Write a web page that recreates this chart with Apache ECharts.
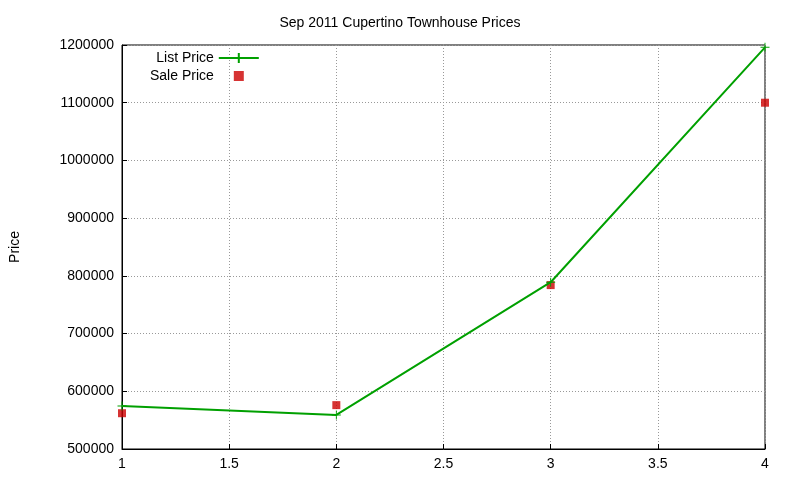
<!DOCTYPE html>
<html><head><meta charset="utf-8">
<script src="https://cdn.jsdelivr.net/npm/echarts@6/dist/echarts.min.js"></script>
<style>html,body{margin:0;padding:0;background:#fff}#c{width:800px;height:480px}</style>
</head><body><div id="c"></div>
<script>
const xs = [1, 2, 3, 4];
const listPrice = [574500, 559000, 789000, 1196000];
const salePrice = [562000, 576000, 784000, 1100000];
const title = 'Sep 2011 Cupertino Townhouse Prices';
const font = 'Liberation Sans';
const chart = echarts.init(document.getElementById('c'));
const ax = {
  axisLine:{show:true,onZero:false,lineStyle:{color:'#000'}},
  axisTick:{show:true,inside:true,lineStyle:{color:'#000'}},
  axisLabel:{color:'#000',fontSize:14,fontFamily:font},
  splitLine:{show:true,lineStyle:{color:'#999',type:[1,2]}}
};
chart.setOption({
  animation:false,
  title:{text:title,left:'center',top:11,textStyle:{fontSize:14,fontWeight:'normal',color:'#000',fontFamily:font}},
  grid:{left:119,right:35,top:45,bottom:31,show:true,borderColor:'#000',borderWidth:1},
  legend:{orient:'vertical',left:145,top:46,align:'right',itemGap:4,itemWidth:40,itemHeight:10,
    textStyle:{fontSize:14,color:'#000',fontFamily:font},
    data:[{name:'List Price',icon:'path://M0,4H40V6H0Z M19,0H21V10H19Z',itemStyle:{color:'#00a000'}},
          {name:'Sale Price',icon:'path://M16.5,1.5H23.5V8.5H16.5Z',itemStyle:{color:'#cc0000'}}]},
  xAxis:Object.assign({type:'value',min:1,max:4,interval:0.5},ax),
  yAxis:Object.assign({type:'value',min:500000,max:1200000,interval:100000,name:'Price',nameLocation:'middle',nameGap:100,
    nameTextStyle:{fontSize:14,color:'#000',fontFamily:font}},ax,
    {axisLabel:{color:'#000',fontSize:14,fontFamily:font,formatter:v=>String(v)}}),
  series:[
    {name:'List Price',type:'line',data:xs.map((x,i)=>[x,listPrice[i]]),color:'#00a000',
     lineStyle:{width:2},symbol:'path://M0,4.5H10V5.5H0Z M4.5,0H5.5V10H4.5Z',symbolSize:9,clip:false},
    {name:'Sale Price',type:'scatter',data:xs.map((x,i)=>[x,salePrice[i]]),color:'#cc0000',
     symbol:'rect',symbolSize:8,clip:false}
  ]
});
</script></body></html>
